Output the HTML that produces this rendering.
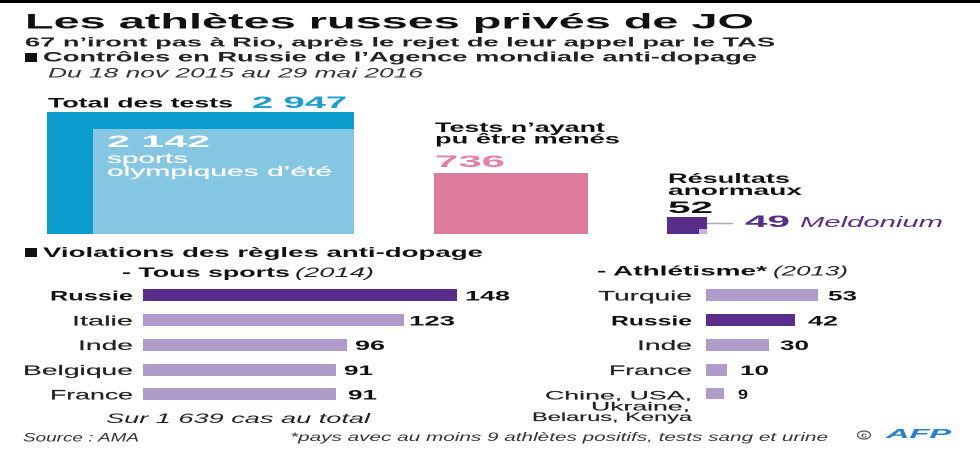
<!DOCTYPE html>
<html><head><meta charset="utf-8"><style>
html,body{margin:0;padding:0;background:#fff;}
svg{display:block;}
text{font-family:"Liberation Sans",sans-serif;}
.b{font-weight:bold;}
.i{font-style:italic;}
.m{stroke:#222;stroke-width:0.15;}
.mw{stroke:#fff;stroke-width:0.2;}
</style></head><body>
<svg width="980" height="450" viewBox="0 0 980 450" xmlns="http://www.w3.org/2000/svg">
<rect x="0" y="0" width="980" height="450" fill="#fff"/>
<rect x="0" y="0" width="980" height="3" fill="#000"/>
<text x="25" y="28.5" font-size="21.5" class="b" fill="#111" textLength="729" lengthAdjust="spacingAndGlyphs">Les athlètes russes privés de JO</text>
<text x="25" y="46.7" font-size="13" class="b" fill="#222" textLength="750" lengthAdjust="spacingAndGlyphs">67 n’iront pas à Rio, après le rejet de leur appel par le TAS</text>
<rect x="25" y="53" width="12" height="9" fill="#111"/>
<text x="43" y="61.5" font-size="14" class="b" fill="#222" textLength="714" lengthAdjust="spacingAndGlyphs">Contrôles en Russie de l’Agence mondiale anti-dopage</text>
<text x="48" y="77.5" font-size="14" class="i" fill="#333" textLength="375" lengthAdjust="spacingAndGlyphs">Du 18 nov 2015 au 29 mai 2016</text>

<text x="48" y="107.5" font-size="14" class="b" fill="#111" textLength="185" lengthAdjust="spacingAndGlyphs">Total des tests</text>
<text x="252" y="108" font-size="17" class="b" fill="#1a9fd2" textLength="95" lengthAdjust="spacingAndGlyphs">2 947</text>
<rect x="47" y="112" width="307" height="122" fill="#0a9ccc"/>
<rect x="93" y="129" width="261" height="105" fill="#85c6e3"/>
<text x="107" y="147" font-size="17" class="b" fill="#fff" textLength="103" lengthAdjust="spacingAndGlyphs">2 142</text>
<text x="107" y="163" font-size="14" fill="#fff" class="mw" textLength="81" lengthAdjust="spacingAndGlyphs">sports</text>
<text x="107" y="176" font-size="14" fill="#fff" class="mw" textLength="225" lengthAdjust="spacingAndGlyphs">olympiques d’été</text>

<text x="435" y="132" font-size="13.5" class="b" fill="#111" textLength="170" lengthAdjust="spacingAndGlyphs">Tests n’ayant</text>
<text x="435" y="143.5" font-size="13.5" class="b" fill="#111" textLength="185" lengthAdjust="spacingAndGlyphs">pu être menés</text>
<text x="435" y="167" font-size="17" class="b" fill="#e083a3" textLength="70" lengthAdjust="spacingAndGlyphs">736</text>
<rect x="434" y="173" width="154" height="61" fill="#dc7b9b"/>

<text x="668" y="183" font-size="13.5" class="b" fill="#111" textLength="122" lengthAdjust="spacingAndGlyphs">Résultats</text>
<text x="668" y="195" font-size="13.5" class="b" fill="#111" textLength="134" lengthAdjust="spacingAndGlyphs">anormaux</text>
<text x="668" y="213" font-size="17" class="b" fill="#111" textLength="45" lengthAdjust="spacingAndGlyphs">52</text>
<rect x="667" y="217" width="40" height="17" fill="#5a2d8c"/>
<rect x="699" y="229" width="8" height="5" fill="#c2b3dc"/>
<line x1="707" y1="223.5" x2="733" y2="223.5" stroke="#b0a8c2" stroke-width="1.5"/>
<text x="745" y="227" font-size="17" class="b" fill="#5a2d8c" textLength="45" lengthAdjust="spacingAndGlyphs">49</text>
<text x="800" y="227" font-size="15" class="i" fill="#5a2d8c" textLength="143" lengthAdjust="spacingAndGlyphs">Meldonium</text>

<rect x="25" y="248" width="12" height="9" fill="#111"/>
<text x="43" y="257" font-size="14" class="b" fill="#111" textLength="440" lengthAdjust="spacingAndGlyphs">Violations des règles anti-dopage</text>
<text x="122" y="277" font-size="14" class="b" fill="#111" textLength="168" lengthAdjust="spacingAndGlyphs">- Tous sports</text>
<text x="295" y="277" font-size="14" class="i" fill="#222" textLength="79" lengthAdjust="spacingAndGlyphs">(2014)</text>
<text x="597" y="275.5" font-size="14" class="b" fill="#111" textLength="170" lengthAdjust="spacingAndGlyphs">- Athlétisme*</text>
<text x="773" y="275.5" font-size="14" class="i" fill="#222" textLength="75" lengthAdjust="spacingAndGlyphs">(2013)</text>

<!-- left chart -->
<rect x="143" y="289" width="314" height="12" fill="#5a2d8c"/>
<rect x="143" y="314" width="261" height="12" fill="#b09ccb"/>
<rect x="143" y="339" width="204" height="12" fill="#b09ccb"/>
<rect x="143" y="364" width="193" height="12" fill="#b09ccb"/>
<rect x="143" y="388" width="193" height="12" fill="#b09ccb"/>
<text x="50" y="300.5" font-size="14" class="b" fill="#111" textLength="83" lengthAdjust="spacingAndGlyphs">Russie</text>
<text x="72" y="325.5" font-size="14" fill="#222" class="m" textLength="61" lengthAdjust="spacingAndGlyphs">Italie</text>
<text x="78" y="350" font-size="14" fill="#222" class="m" textLength="55" lengthAdjust="spacingAndGlyphs">Inde</text>
<text x="23" y="375" font-size="14" fill="#222" class="m" textLength="110" lengthAdjust="spacingAndGlyphs">Belgique</text>
<text x="50" y="399.5" font-size="14" fill="#222" class="m" textLength="83" lengthAdjust="spacingAndGlyphs">France</text>
<text x="465" y="300.5" font-size="14" class="b" fill="#111" textLength="45" lengthAdjust="spacingAndGlyphs">148</text>
<text x="409" y="325.5" font-size="14" class="b" fill="#111" textLength="46" lengthAdjust="spacingAndGlyphs">123</text>
<text x="355" y="350" font-size="14" class="b" fill="#111" textLength="30" lengthAdjust="spacingAndGlyphs">96</text>
<text x="344" y="375" font-size="14" class="b" fill="#111" textLength="29" lengthAdjust="spacingAndGlyphs">91</text>
<text x="348" y="399.5" font-size="14" class="b" fill="#111" textLength="29" lengthAdjust="spacingAndGlyphs">91</text>
<text x="106" y="423" font-size="14" class="i" fill="#222" textLength="264" lengthAdjust="spacingAndGlyphs">Sur 1 639 cas au total</text>

<!-- right chart -->
<rect x="706" y="289" width="112" height="12" fill="#b09ccb"/>
<rect x="706" y="314" width="89" height="12" fill="#5a2d8c"/>
<rect x="706" y="339" width="63" height="12" fill="#b09ccb"/>
<rect x="706" y="364" width="21" height="12" fill="#b09ccb"/>
<rect x="706" y="388" width="18" height="11" fill="#b09ccb"/>
<text x="598" y="300.5" font-size="14" fill="#222" class="m" textLength="94" lengthAdjust="spacingAndGlyphs">Turquie</text>
<text x="611" y="325.5" font-size="14" class="b" fill="#111" textLength="81" lengthAdjust="spacingAndGlyphs">Russie</text>
<text x="637" y="350" font-size="14" fill="#222" class="m" textLength="55" lengthAdjust="spacingAndGlyphs">Inde</text>
<text x="609" y="375" font-size="14" fill="#222" class="m" textLength="83" lengthAdjust="spacingAndGlyphs">France</text>
<text x="545" y="399.5" font-size="12" fill="#222" class="m" textLength="147" lengthAdjust="spacingAndGlyphs">Chine, USA,</text>
<text x="591" y="410.5" font-size="12" fill="#222" class="m" textLength="99" lengthAdjust="spacingAndGlyphs">Ukraine,</text>
<text x="532" y="421" font-size="12" fill="#222" class="m" textLength="160" lengthAdjust="spacingAndGlyphs">Belarus, Kenya</text>
<text x="828" y="300.5" font-size="14" class="b" fill="#111" textLength="29" lengthAdjust="spacingAndGlyphs">53</text>
<text x="808" y="325.5" font-size="14" class="b" fill="#111" textLength="30" lengthAdjust="spacingAndGlyphs">42</text>
<text x="780" y="350" font-size="14" class="b" fill="#111" textLength="29" lengthAdjust="spacingAndGlyphs">30</text>
<text x="740" y="375" font-size="14" class="b" fill="#111" textLength="29" lengthAdjust="spacingAndGlyphs">10</text>
<text x="738" y="399" font-size="14" class="b" fill="#111" textLength="10" lengthAdjust="spacingAndGlyphs">9</text>

<!-- footer -->
<text x="23" y="441.5" font-size="11.5" class="i" fill="#333" textLength="116" lengthAdjust="spacingAndGlyphs">Source : AMA</text>
<text x="290" y="441" font-size="11.5" class="i" fill="#333" textLength="538" lengthAdjust="spacingAndGlyphs">*pays avec au moins 9 athlètes positifs, tests sang et urine</text>
<ellipse cx="864" cy="435" rx="6.5" ry="4" fill="none" stroke="#555" stroke-width="1.2"/>
<text x="864" y="437.5" font-size="7" class="b" fill="#555" text-anchor="middle" textLength="6" lengthAdjust="spacingAndGlyphs">c</text>
<text x="886" y="438" font-size="12.5" class="b i" fill="#2a7fd4" textLength="65" lengthAdjust="spacingAndGlyphs">AFP</text>
</svg>
</body></html>
